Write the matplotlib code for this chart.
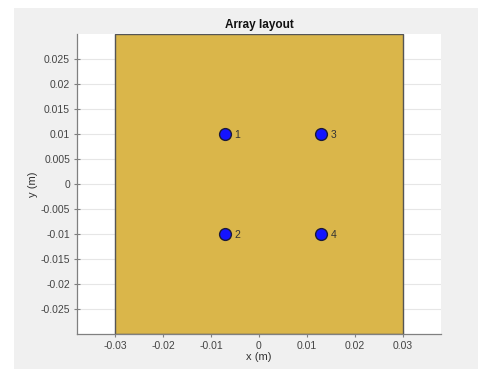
import matplotlib.pyplot as plt
from matplotlib.patches import Rectangle
import numpy as np

# element positions (m) and labels
elem_x = [-0.007, -0.007, 0.013, 0.013]
elem_y = [0.01, -0.01, 0.01, -0.01]
elem_labels = ['1', '2', '3', '4']

# ground plane extent (m)
plane_x = [-0.03, 0.03]
plane_y = [-0.03, 0.03]

xticks = [-0.03, -0.02, -0.01, 0, 0.01, 0.02, 0.03]
yticks = [-0.025, -0.02, -0.015, -0.01, -0.005, 0, 0.005, 0.01, 0.015, 0.02, 0.025]

plt.rcParams['font.family'] = ['Liberation Sans', 'DejaVu Sans']

fig = plt.figure(figsize=(4.78, 3.69), dpi=100)
fig.patch.set_facecolor('white')
# gray MATLAB figure background
fig.patches.append(Rectangle((14 / 478, 0), 1, 1 - 8 / 369, transform=fig.transFigure,
                             facecolor='#f0f0f0', edgecolor='none', zorder=-10))

ax = fig.add_axes([77 / 478, 1 - 334 / 369, (441 - 77) / 478, (334 - 34) / 369])
ax.set_facecolor('white')

ax.add_patch(Rectangle((plane_x[0], plane_y[0]), plane_x[1] - plane_x[0], plane_y[1] - plane_y[0],
                       facecolor='#dab64a', edgecolor='#555555', linewidth=1.0, zorder=2))

ax.plot(elem_x, elem_y, 'o', markersize=8.5, markerfacecolor='#1414ff',
        markeredgecolor='#1a1a3a', markeredgewidth=1.0, zorder=3)
for x, y, lab in zip(elem_x, elem_y, elem_labels):
    ax.text(x + 0.0019, y - 0.0003, lab, fontsize=7.5, color='#333333',
            va='center', ha='left', zorder=4)

ax.set_xlim(-0.0379, 0.0379)
ax.set_ylim(-0.03, 0.03)
ax.set_xticks(xticks)
ax.set_yticks(yticks)
ax.set_xticklabels([f'{v:g}' for v in xticks])
ax.set_yticklabels([f'{v:g}' for v in yticks])
ax.grid(True, color='#e6e6e6', linewidth=0.8, zorder=0)
ax.set_axisbelow(True)

for s in ['top', 'right']:
    ax.spines[s].set_visible(False)
for s in ['left', 'bottom']:
    ax.spines[s].set_color('#808080')
    ax.spines[s].set_linewidth(0.9)
ax.tick_params(colors='#808080', labelcolor='#444444', labelsize=7.5,
               direction='inout', length=4, width=0.8, pad=3)

ax.set_xlabel('x (m)', fontsize=8, color='#333333', labelpad=1)
ax.set_ylabel('y (m)', fontsize=8, color='#333333', labelpad=2)
ax.set_title('Array layout', fontsize=8.5, fontweight='bold', color='#111111', pad=4)

fig.savefig('out.png', dpi=100)
